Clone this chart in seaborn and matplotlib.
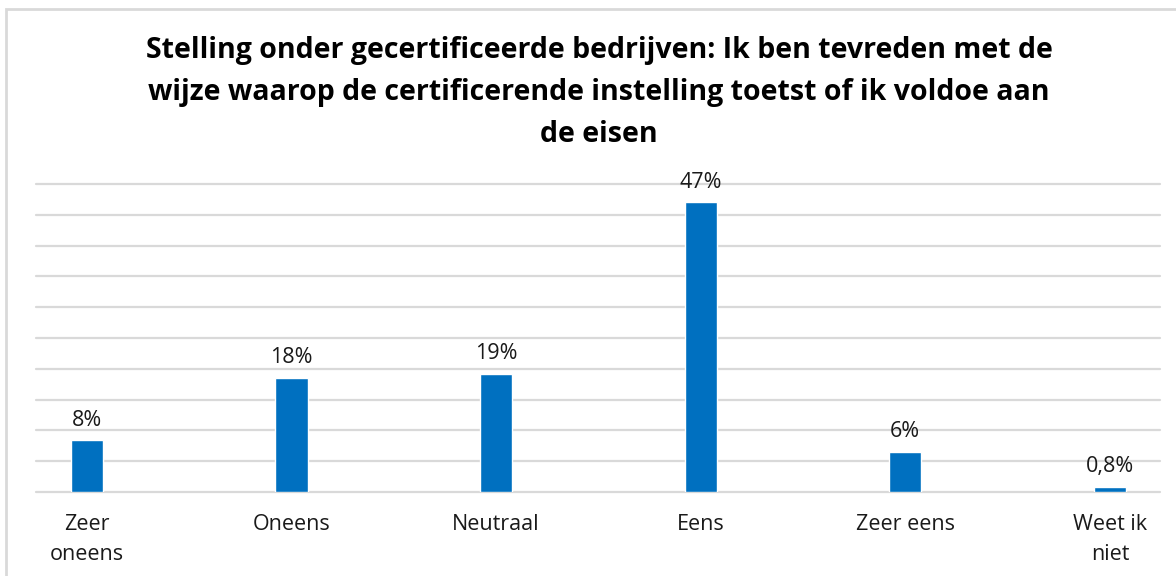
import matplotlib
matplotlib.use("Agg")
import matplotlib.pyplot as plt
import seaborn as sns
import pandas as pd
from matplotlib.patches import Rectangle

categories = ["Zeer\noneens", "Oneens", "Neutraal", "Eens", "Zeer eens", "Weet ik\nniet"]
values = [8.4, 18.5, 19.2, 47.0, 6.5, 0.8]
value_labels = ["8%", "18%", "19%", "47%", "6%", "0,8%"]
title = ("Stelling onder gecertificeerde bedrijven: Ik ben tevreden met de\n"
         "wijze waarop de certificerende instelling toetst of ik voldoe aan\n"
         "de eisen")

sns.set_theme(style="white")
plt.rcParams['font.family'] = ['Open Sans', 'DejaVu Sans']

df = pd.DataFrame({"cat": categories, "val": values})

fig = plt.figure(figsize=(11.76, 5.76), dpi=100)
ax = fig.add_axes([36/1176, 1-492/576, (1160-36)/1176, (492-184)/576])

for y in range(0, 55, 5):
    ax.axhline(y, color="#d9d9d9", lw=1.6, zorder=0, clip_on=False)

sns.barplot(data=df, x="cat", y="val", color="#0070C0", width=0.157,
            saturation=1, ax=ax, zorder=2)

ax.set_xlim(-0.249, 5.245)
ax.set_ylim(0, 50)
for i, (v, lab) in enumerate(zip(values, value_labels)):
    ax.annotate(lab, (i, v), xytext=(0, 7), textcoords="offset points",
                ha="center", va="bottom", fontsize=15.5, color="#1a1a1a")

ax.set_yticks([])
ax.set_xlabel("")
ax.set_ylabel("")
ax.tick_params(axis="x", length=0, pad=16, labelsize=15.5, labelcolor="#1a1a1a")
for t in ax.get_xticklabels():
    t.set_linespacing(1.55)
for s in ax.spines.values():
    s.set_visible(False)

fig.text(599/1176, 1-36/576, title, ha="center", va="top", fontsize=20.5,
         fontweight="bold", color="#000000", linespacing=1.6)

fig.patches.append(Rectangle((6/1176, -0.1), 1.2, 1-9/576+0.1, transform=fig.transFigure,
                             fill=False, edgecolor="#d9d9d9", lw=2, figure=fig))

fig.savefig("out.png", dpi=100)
